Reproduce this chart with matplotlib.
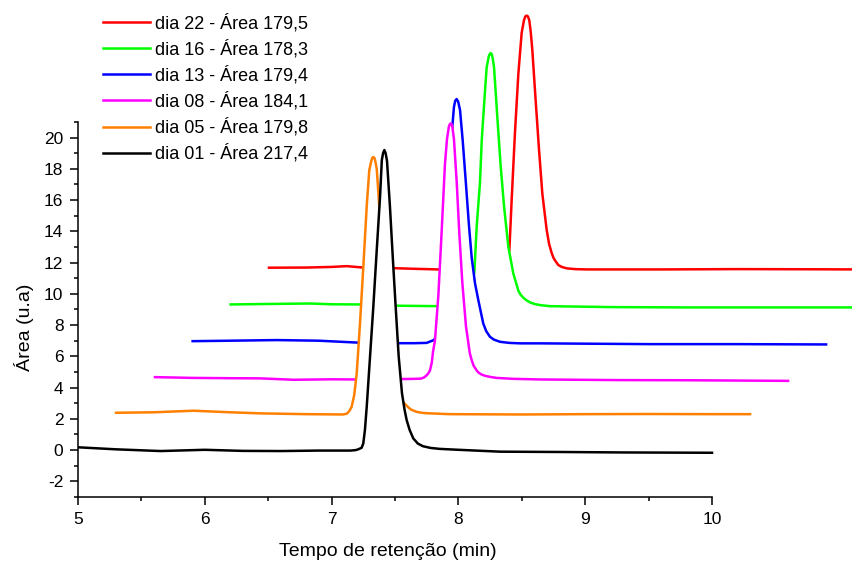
import numpy as np
import matplotlib
matplotlib.use("Agg")
import matplotlib.pyplot as plt

plt.rcParams['font.family'] = ['Liberation Sans', 'DejaVu Sans']
plt.rcParams['axes.unicode_minus'] = False

# chromatograms, already shifted for the waterfall view (back -> front)
labels = ['dia 22 - Área 179,5', 'dia 16 - Área 178,3', 'dia 13 - Área 179,4',
          'dia 08 - Área 184,1', 'dia 05 - Área 179,8', 'dia 01 - Área 217,4']
colors = ['#ff0000', '#00ff00', '#0000ff', '#ff00ff', '#ff8000', '#000000']

t_d22 = [6.506, 6.80, 7.00, 7.119, 7.25, 7.45, 7.65, 7.842, 8.00, 8.20, 8.35, 8.38,
         8.402, 8.42, 8.446, 8.473, 8.499, 8.517, 8.528, 8.538, 8.548, 8.559, 8.57,
         8.583, 8.609, 8.636, 8.662, 8.696, 8.715, 8.736, 8.75, 8.765, 8.788, 8.815,
         8.854, 8.92, 9.01, 9.60, 10.20, 10.80, 11.50]
y_d22 = [11.67, 11.68, 11.72, 11.77, 11.68, 11.65, 11.60, 11.56, 11.55, 11.55, 11.7, 12.0,
         12.8, 16.0, 20.3, 24.1, 26.7, 27.5, 27.75, 27.8, 27.75, 27.5, 26.8,
         25.6, 22.4, 19.2, 16.4, 14.1, 13.2, 12.6, 12.3, 12.1, 11.84, 11.72,
         11.63, 11.58, 11.56, 11.56, 11.58, 11.57, 11.55]

t_d16 = [6.204, 6.50, 6.83, 7.00, 7.224, 7.50, 7.83, 7.95, 8.03, 8.07, 8.10, 8.126,
         8.145, 8.17, 8.184, 8.196, 8.21, 8.223, 8.24, 8.248, 8.255, 8.262, 8.27,
         8.281, 8.307, 8.334, 8.36, 8.394, 8.433, 8.473, 8.49, 8.512, 8.535, 8.565,
         8.60, 8.643, 8.72, 9.20, 9.77, 10.50, 11.20]
y_d16 = [9.32, 9.35, 9.38, 9.33, 9.32, 9.24, 9.21, 9.22, 9.3, 9.6, 10.3, 11.4,
         14.4, 17.1, 19.8, 21.3, 23.0, 24.5, 25.2, 25.35, 25.4, 25.35, 25.1,
         24.5, 21.3, 18.1, 15.6, 13.0, 11.3, 10.2, 9.95, 9.75, 9.6, 9.45,
         9.35, 9.28, 9.21, 9.15, 9.13, 9.13, 9.13]

t_d13 = [5.904, 6.20, 6.567, 6.90, 7.224, 7.45, 7.65, 7.75, 7.806, 7.827, 7.86, 7.89,
         7.915, 7.94, 7.952, 7.965, 7.975, 7.986, 7.998, 8.013, 8.034, 8.057, 8.084,
         8.105, 8.131, 8.157, 8.196, 8.22, 8.249, 8.28, 8.328, 8.40, 8.486, 8.643,
         9.51, 10.20, 10.90]
y_d13 = [6.97, 7.0, 7.04, 7.0, 6.87, 6.84, 6.84, 6.86, 7.04, 7.25, 8.9, 12.0,
         15.5, 19.4, 20.7, 21.96, 22.35, 22.46, 22.3, 21.75, 19.8, 17.3, 14.3,
         12.3, 10.67, 9.6, 8.1, 7.6, 7.25, 7.07, 6.93, 6.86, 6.83, 6.83,
         6.78, 6.78, 6.76]

t_d08 = [5.607, 5.90, 6.20, 6.435, 6.70, 7.00, 7.20, 7.40, 7.60, 7.70, 7.725, 7.745,
         7.762, 7.776, 7.79, 7.80, 7.815, 7.842, 7.868, 7.894, 7.91, 7.925, 7.932,
         7.939, 7.946, 7.952, 7.965, 7.987, 8.007, 8.031, 8.06, 8.09, 8.105, 8.12,
         8.144, 8.16, 8.18, 8.20, 8.223, 8.26, 8.30, 8.433, 8.643, 9.25, 9.80,
         10.20, 10.60]
y_d08 = [4.67, 4.62, 4.60, 4.59, 4.50, 4.53, 4.52, 4.54, 4.55, 4.57, 4.63, 4.75,
         4.9, 5.1, 5.6, 6.3, 7.0, 9.9, 14.0, 18.3, 19.9, 20.7, 20.85,
         20.9, 20.85, 20.7, 19.9, 17.1, 13.9, 10.7, 7.9, 6.2, 5.75, 5.4,
         5.1, 4.95, 4.85, 4.78, 4.73, 4.67, 4.62, 4.56, 4.52, 4.48, 4.47,
         4.45, 4.43]

t_d05 = [5.30, 5.60, 5.91, 6.20, 6.44, 6.80, 7.09, 7.12, 7.14, 7.158, 7.178, 7.198,
         7.224, 7.25, 7.277, 7.297, 7.313, 7.321, 7.329, 7.337, 7.343, 7.356, 7.376,
         7.395, 7.418, 7.442, 7.468, 7.505, 7.55, 7.592, 7.61, 7.63, 7.67, 7.71,
         7.75, 7.93, 8.50, 9.00, 9.50, 10.00, 10.30]
y_d05 = [2.39, 2.42, 2.52, 2.42, 2.35, 2.30, 2.28, 2.33, 2.5, 2.77, 3.5, 4.9,
         8.1, 11.7, 15.6, 17.9, 18.5, 18.7, 18.75, 18.7, 18.55, 18.0, 15.6,
         12.5, 9.3, 6.2, 4.8, 3.8, 3.2, 2.84, 2.7, 2.58, 2.45, 2.39,
         2.36, 2.30, 2.28, 2.30, 2.31, 2.30, 2.30]

t_d01 = [5.00, 5.30, 5.65, 6.00, 6.30, 6.60, 6.90, 7.15, 7.19, 7.21, 7.237, 7.25,
         7.263, 7.277, 7.303, 7.329, 7.356, 7.382, 7.396, 7.406, 7.416, 7.426, 7.437,
         7.46, 7.482, 7.505, 7.529, 7.555, 7.575, 7.592, 7.615, 7.644, 7.68, 7.72,
         7.78, 7.85, 8.00, 8.33, 8.80, 9.30, 10.00]
y_d01 = [0.18, 0.05, -0.06, 0.02, -0.05, -0.06, -0.03, -0.03, 0.0, 0.05, 0.15, 0.43,
         1.3, 2.77, 5.97, 9.17, 12.8, 16.2, 18.55, 19.0, 19.2, 19.0, 18.5,
         15.6, 12.4, 9.2, 6.0, 3.64, 2.6, 1.92, 1.3, 0.75, 0.42, 0.25,
         0.14, 0.08, 0.02, -0.10, -0.12, -0.15, -0.17]

series = [(t_d22, y_d22), (t_d16, y_d16), (t_d13, y_d13),
          (t_d08, y_d08), (t_d05, y_d05), (t_d01, y_d01)]

fig = plt.figure(figsize=(8.53, 5.63), dpi=100)
ax = fig.add_axes([78 / 853, 66 / 563, 775 / 853, 497 / 563])
ax.set_xlim(5, 5 + 775 / 126.8)
ax.set_ylim(-3, -3 + 497 / 15.63)

# each curve hides what lies behind it (white fill under the trace)
for i, ((t, y), c, lab) in enumerate(zip(series, colors, labels)):
    z = 1 + 0.1 * i
    ax.fill_between(t, y, -3, color='white', lw=0, zorder=z)
    ax.plot(t, y, color=c, lw=1.8, label=lab, zorder=z + 0.05,
            solid_joinstyle='round')

for s in ['top', 'right']:
    ax.spines[s].set_visible(False)
ax.spines['left'].set_bounds(-3, 21)
ax.spines['bottom'].set_bounds(5, 10)
for s in ['left', 'bottom']:
    ax.spines[s].set_linewidth(1.1)

ax.set_xticks(np.arange(5, 11, 1))
ax.set_xticks(np.arange(5.5, 10, 1), minor=True)
ax.set_yticks(np.arange(-2, 21, 2))
ax.set_yticks(np.arange(-3, 22, 2), minor=True)
ax.tick_params(which='major', length=6, width=1.1, labelsize=12.5, pad=4.5)
ax.tick_params(which='minor', length=3.2, width=1.1)

ax.set_xlabel('Tempo de retenção (min)', fontsize=14)
ax.set_ylabel('Área (u.a)', fontsize=14)
ax.xaxis.set_label_coords(0.4, -0.093)
ax.yaxis.set_label_coords(-0.057, 0.342)

ax.legend(loc='upper left', bbox_to_anchor=(103 / 853, 1 - 14 / 563),
          bbox_transform=fig.transFigure, frameon=False, fontsize=13,
          borderpad=0, borderaxespad=0, handlelength=2.6, handletextpad=0.3,
          labelspacing=0.42)

fig.savefig('out.png', dpi=100)
